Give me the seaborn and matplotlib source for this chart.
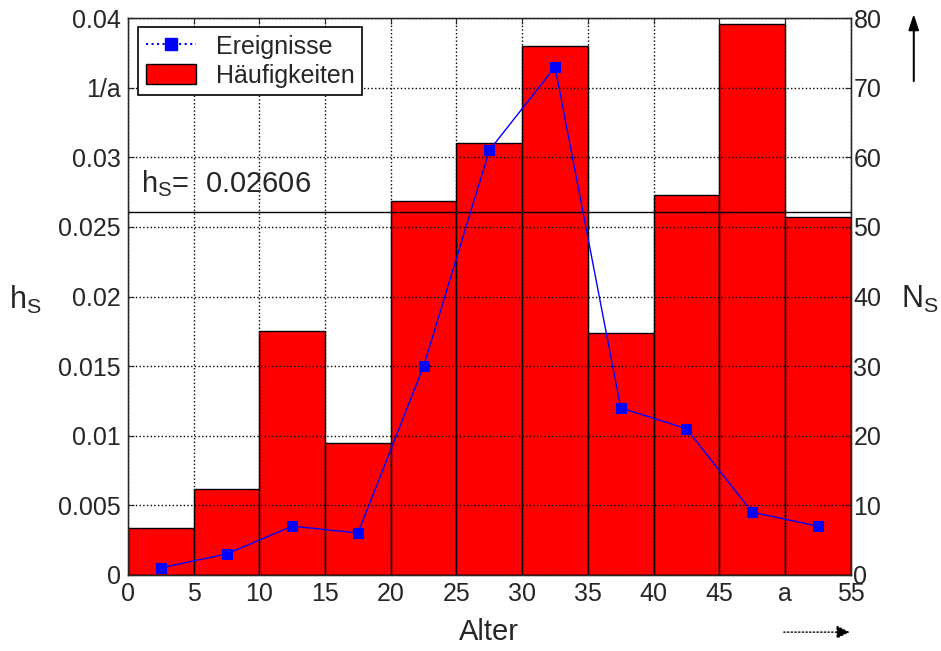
import numpy as np
import matplotlib
matplotlib.use('Agg')
import matplotlib.pyplot as plt
import seaborn as sns
from matplotlib.lines import Line2D
from matplotlib.patches import Patch

# age classes (years) and values
bin_edges = [0, 5, 10, 15, 20, 25, 30, 35, 40, 45, 50, 55]
bin_mids = [2.5, 7.5, 12.5, 17.5, 22.5, 27.5, 32.5, 37.5, 42.5, 47.5, 52.5]
haeufigkeit = [0.0034, 0.0062, 0.0175, 0.0095, 0.0269, 0.0310, 0.0380, 0.0174, 0.0273, 0.0396, 0.0257]
ereignisse = [1, 3, 7, 6, 30, 61, 73, 24, 21, 9, 7]
h_s_mean = 0.02606

x_ticks = [0, 5, 10, 15, 20, 25, 30, 35, 40, 45, 50, 55]
x_labels = ['0', '5', '10', '15', '20', '25', '30', '35', '40', '45', 'a', '55']
y_ticks = [0, 0.005, 0.01, 0.015, 0.02, 0.025, 0.03, 0.035, 0.04]
y_labels = ['0', '0.005', '0.01', '0.015', '0.02', '0.025', '0.03', '1/a', '0.04']
y2_ticks = [0, 10, 20, 30, 40, 50, 60, 70, 80]

sns.set_style('white')
plt.rcParams['font.family'] = ['Liberation Sans', 'DejaVu Sans']
plt.rcParams['font.size'] = 18

fig = plt.figure(figsize=(9.41, 6.51), dpi=100)
ax = fig.add_axes([0.136, 0.117, 0.768, 0.855])

# bars for the relative frequency
sns.histplot(x=bin_mids, weights=haeufigkeit, bins=bin_edges, color='red', alpha=1,
             edgecolor='black', linewidth=1, ax=ax)
ax.set_xlim(0, 55)
ax.set_ylim(0, 0.04)
ax.set_xticks(x_ticks)
ax.set_xticklabels(x_labels)
ax.set_yticks(y_ticks)
ax.set_yticklabels(y_labels)
ax.grid(True, color='black', linestyle=':', linewidth=1)
ax.set_axisbelow(False)
ax.axhline(h_s_mean, color='black', linewidth=1)
ax.text(1.0, 0.0281, r'h$_\mathregular{S}$=  0.02606', fontsize=21, va='center')
ax.set_xlabel('Alter', fontsize=21)
ax.xaxis.set_label_coords(0.5, -0.078)
ax.set_ylabel(r'h$_\mathregular{S}$', fontsize=22, rotation=0, va='center', ha='center')
ax.yaxis.set_label_coords(-0.142, 0.494)
ax.tick_params(axis='both', direction='in', length=4, labelsize=18, pad=5)
ax.tick_params(axis='x', top=True)
for sp in ax.spines.values():
    sp.set_color('black')
    sp.set_linewidth(1)

# events on the right axis
ax2 = ax.twinx()
sns.lineplot(x=bin_mids, y=ereignisse, color='blue', marker='s', markersize=7,
             markeredgecolor='blue', linewidth=1, ax=ax2)
ax2.set_ylim(0, 80)
ax2.set_yticks(y2_ticks)
ax2.set_ylabel(r'N$_\mathregular{S}$', fontsize=22, rotation=0, va='center', ha='center')
ax2.yaxis.set_label_coords(1.095, 0.494)
ax2.tick_params(axis='y', direction='in', length=4, labelsize=18, pad=2)

handles = [Line2D([0], [0], color='blue', linestyle=':', marker='s', markersize=8),
           Patch(facecolor='red', edgecolor='black')]
leg = ax.legend(handles, ['Ereignisse', 'Häufigkeiten'], loc='upper left',
                bbox_to_anchor=(0.014, 0.984), borderaxespad=0, fontsize=18, fancybox=False,
                framealpha=1, edgecolor='black', borderpad=0.3, labelspacing=0.2,
                handlelength=2.0, handleheight=0.9, handletextpad=0.8)
leg.get_frame().set_linewidth(1.2)

# direction arrows
fig.patches.append(matplotlib.patches.FancyArrow(0.971, 0.875, 0, 0.10, width=0.0005,
                   head_width=0.01, head_length=0.022, color='black',
                   transform=fig.transFigure, length_includes_head=True))
fig.add_artist(matplotlib.patches.FancyArrowPatch((0.83, 0.029), (0.906, 0.029),
               transform=fig.transFigure, arrowstyle='-|>', mutation_scale=20,
               linestyle=':', color='black'))

fig.savefig('out.png', dpi=100)
